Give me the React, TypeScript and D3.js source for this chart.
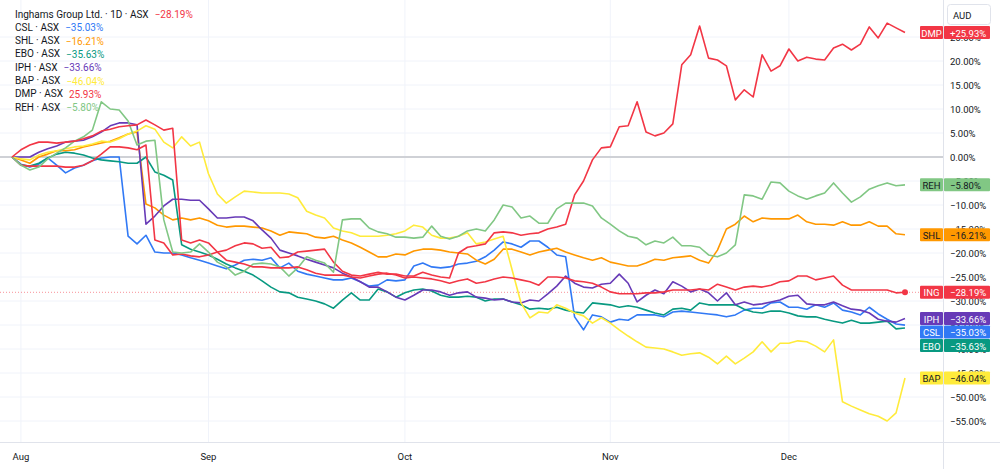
import React from 'react';
import * as d3 from 'd3';

// ---- data (percent change since 31 Jul, one value per trading day) ----
const monthLabels = ['Aug', 'Sep', 'Oct', 'Nov', 'Dec'];
const monthIndex = [1, 22, 44, 67, 87];
const yTicks = [25, 20, 15, 10, 5, 0, -5, -10, -15, -20, -25, -30, -35, -40, -45, -50, -55];

const ingValues = [0,1.5,2.5,3.1,3.1,2.9,3.1,3.3,3.8,4.4, 5.4,5.8,6.3,6.5,6.7,7.7,6.7,5.6,6.0,-17.3, -17.9,-17.3,-17.9,-19.8,-21.5,-21.9,-22.3,-22.9,-22.9,-23.1, -23.1,-23.1,-22.9,-23.5,-24.2,-24.6,-24.6,-24.6,-25.0,-25.2, -24.8,-24.4,-24.2,-24.6,-25.2,-25.0,-25.2,-25.4,-25.8,-26.3, -25.8,-25.4,-26.3,-26.0,-25.4,-25.0,-25.2,-25.6,-26.0,-26.7, -25.0,-25.0,-25.2,-25.8,-26.0,-26.3,-27.1,-28.1,-28.5,-28.5, -28.5,-28.3,-28.3,-28.1,-27.7,-27.7,-27.7,-27.5,-27.7,-26.5, -27.1,-27.7,-27.1,-26.9,-27.1,-26.7,-26.0,-25.8,-24.8,-24.8, -25.6,-25.2,-24.8,-26.7,-27.7,-27.7,-27.7,-27.7,-27.7,-28.3, -28.19];
const cslValues = [0,-1.5,-2.1,-1.5,-0.2,-1.7,-3.3,-2.3,-1.7,-0.8, -0.2,0,0,-16.5,-18.1,-16.3,-19.8,-20.0,-20.0,-20.4, -21.0,-21.5,-22.1,-22.7,-23.3,-22.5,-21.5,-21.3,-21.5,-21.0, -23.1,-22.1,-23.8,-24.4,-24.8,-25.2,-25.6,-25.6,-25.2,-26.0, -26.9,-26.7,-25.6,-25.8,-25.6,-22.7,-22.1,-22.9,-23.1,-22.9, -22.3,-22.1,-21.7,-20.8,-19.4,-17.7,-18.1,-18.8,-17.5,-17.5, -18.8,-20.4,-20.8,-33.3,-36.0,-32.9,-33.3,-34.4,-33.8,-34.0, -32.9,-32.9,-32.9,-33.3,-32.3,-32.1,-32.3,-32.5,-32.7,-32.9, -33.3,-32.9,-31.9,-31.5,-31.5,-30.4,-30.2,-31.3,-31.3,-31.7, -30.8,-31.3,-30.4,-31.9,-32.3,-32.9,-31.3,-32.7,-33.8,-34.8, -35.03];
const shlValues = [0,-0.6,-1.3,0,0.6,1.3,1.3,1.5,2.1,2.5, 2.9,3.3,4.0,4.8,5.2,-9.8,-10.6,-12.1,-13.1,-12.7, -13.1,-12.7,-13.3,-14.2,-14.6,-14.4,-14.4,-14.6,-14.8,-15.4, -16.3,-15.6,-15.8,-16.0,-16.7,-16.9,-16.5,-17.3,-17.9,-18.8, -19.8,-20.8,-20.8,-20.2,-20.4,-19.6,-19.2,-19.2,-19.4,-19.8, -20.0,-20.2,-21.5,-22.3,-21.3,-19.2,-19.2,-19.8,-20.4,-19.8, -19.4,-19.0,-19.8,-20.4,-21.0,-21.5,-21.0,-21.9,-22.3,-22.7, -22.7,-22.1,-21.3,-21.5,-21.0,-20.8,-20.6,-21.5,-22.1,-19.4, -15.0,-14.0,-12.3,-13.5,-12.7,-12.9,-12.9,-12.9,-12.1,-13.5, -14.0,-14.0,-14.2,-13.5,-14.2,-14.2,-13.5,-14.4,-14.4,-16.0, -16.21];
const eboValues = [0,-1.7,-1.9,-1.3,-0.2,0.6,1.0,0.8,0.4,-0.2, -0.6,-0.8,-1.0,-1.3,-1.3,0,-3.1,-3.8,-4.8,-18.3, -19.2,-19.8,-20.4,-21.3,-22.3,-23.1,-23.8,-24.6,-25.8,-27.1, -28.1,-28.3,-29.2,-29.6,-30.0,-30.6,-31.5,-29.8,-28.3,-29.8, -29.8,-27.5,-28.1,-29.2,-28.3,-27.7,-27.5,-27.9,-28.8,-29.2, -29.2,-29.0,-29.2,-30.0,-29.6,-29.6,-30.2,-30.8,-31.7,-31.5, -31.7,-31.3,-31.9,-32.3,-32.5,-30.4,-30.6,-30.8,-31.3,-31.0, -31.3,-31.9,-32.5,-32.9,-31.7,-31.5,-31.9,-30.4,-30.8,-30.8, -30.8,-30.8,-31.7,-32.3,-32.5,-32.1,-32.1,-32.5,-33.1,-33.3, -33.3,-33.8,-34.2,-34.6,-34.0,-34.6,-34.6,-34.4,-34.2,-35.8, -35.63];
const iphValues = [0,0,0,1.0,1.7,2.3,3.1,3.3,3.5,4.2, 5.2,6.5,7.1,7.1,6.7,-14.0,-12.3,-10.2,-8.8,-8.8, -9.0,-9.0,-10.8,-12.7,-12.7,-12.5,-12.5,-13.3,-15.2,-16.9, -19.4,-20.0,-20.6,-21.3,-21.9,-22.5,-23.1,-24.2,-25.0,-26.0, -27.1,-27.1,-28.1,-29.2,-29.8,-28.8,-27.7,-27.7,-28.1,-28.8, -28.3,-28.1,-29.2,-29.4,-29.8,-29.6,-30.2,-30.4,-29.8,-30.0, -28.5,-26.9,-24.8,-26.3,-27.1,-27.3,-26.5,-26.3,-24.4,-26.3, -30.2,-28.8,-27.7,-28.5,-26.0,-26.9,-28.1,-27.5,-28.3,-30.0, -28.3,-30.8,-30.2,-30.8,-30.6,-30.2,-29.8,-29.0,-28.8,-30.6, -30.8,-30.8,-30.2,-31.0,-31.7,-31.9,-32.5,-33.8,-34.2,-34.4, -33.66];
const bapValues = [0,-0.4,-0.6,0.4,1.0,1.3,1.7,2.1,2.3,2.7, 3.3,3.1,3.8,4.8,5.4,6.5,5.8,3.1,1.9,4.2, 2.3,3.1,-3.5,-7.7,-9.6,-8.3,-7.1,-7.3,-7.5,-7.5, -7.5,-7.7,-8.5,-11.3,-12.1,-12.7,-14.8,-15.4,-15.8,-16.5, -16.5,-16.5,-16.3,-16.0,-15.4,-14.2,-14.6,-16.3,-16.9,-16.9, -16.5,-15.8,-18.1,-17.7,-17.1,-16.5,-23.5,-30.4,-33.5,-32.3, -32.5,-30.8,-31.5,-32.5,-33.1,-34.6,-33.5,-34.6,-36.0,-37.3, -38.5,-39.6,-39.8,-40.0,-40.6,-41.3,-41.0,-40.8,-41.7,-43.1, -41.5,-43.1,-41.9,-40.6,-38.5,-40.6,-38.8,-38.8,-38.3,-38.5, -39.4,-40.6,-38.1,-51.0,-51.9,-52.7,-53.5,-54.0,-55.0,-53.3, -46.04];
const dmpValues = [0,-1.7,-1.9,-1.9,-1.9,-1.9,-2.1,-2.1,-1.7,-0.8, 0.6,2.1,2.1,1.9,1.5,2.5,-17.3,-17.9,-20.4,-20.2, -20.6,-20.8,-20.4,-19.8,-19.4,-18.5,-17.9,-18.1,-19.0,-18.8, -21.0,-20.8,-19.8,-19.6,-19.4,-19.2,-21.9,-23.8,-24.6,-24.8, -24.4,-24.0,-24.4,-24.4,-24.8,-24.8,-24.0,-24.6,-25.0,-25.2, -20.0,-18.8,-18.5,-18.1,-15.8,-15.6,-15.8,-16.3,-16.0,-15.8, -15.0,-14.6,-14.0,-7.9,-5.0,-0.6,1.9,2.1,6.3,6.5, 11.5,5.2,4.4,5.0,6.9,19.2,21.3,27.3,20.6,20.2, 19.0,11.9,14.0,12.5,21.3,17.9,19.0,22.5,20.0,20.8, 20.4,20.2,22.7,23.5,22.3,23.5,27.1,24.8,27.9,26.9, 25.93];
const rehValues = [0,-1.7,-2.7,-2.1,-0.4,0.8,1.9,3.3,4.2,5.6, 11.5,10.0,9.8,7.5,2.5,3.3,3.5,-13.1,-19.8,-20.0, -19.8,-18.1,-19.8,-21.9,-22.9,-24.6,-23.8,-22.3,-22.1,-22.3, -22.9,-24.8,-23.1,-20.8,-21.5,-22.1,-24.0,-13.1,-12.9,-12.9, -14.8,-15.6,-16.0,-16.7,-16.7,-16.9,-16.7,-14.4,-16.5,-17.1, -16.5,-15.4,-15.0,-15.4,-13.1,-10.0,-10.4,-12.7,-12.3,-13.8, -13.8,-10.8,-9.6,-9.6,-9.6,-10.2,-12.7,-14.0,-15.4,-16.5, -16.9,-18.3,-17.5,-17.9,-16.7,-18.5,-18.5,-18.8,-20.4,-20.8, -20.0,-18.3,-7.9,-8.1,-8.8,-5.2,-5.4,-7.1,-8.1,-8.8, -8.1,-7.5,-5.4,-7.5,-9.4,-8.3,-6.7,-6.0,-5.4,-6.0, -5.80];

const tickers = ['ING', 'CSL', 'SHL', 'EBO', 'IPH', 'BAP', 'DMP', 'REH'];
const legendNames = ['Inghams Group Ltd. · 1D · ASX', 'CSL · ASX', 'SHL · ASX', 'EBO · ASX', 'IPH · ASX', 'BAP · ASX', 'DMP · ASX', 'REH · ASX'];
const seriesValues = [ingValues, cslValues, shlValues, eboValues, iphValues, bapValues, dmpValues, rehValues];
const colors = ['#f23645', '#3179f5', '#ff9800', '#089981', '#673ab7', '#ffeb3b', '#f23645', '#81c784'];
const tagText = ['#ffffff', '#ffffff', '#131722', '#ffffff', '#ffffff', '#131722', '#ffffff', '#131722'];

const W = 1000;
const H = 469;
const PLOT_RIGHT = 943;
const AXIS_Y = 442;
const FONT = "Roboto, 'Liberation Sans', Arial, sans-serif";
const TEXT = '#131722';
const GRID = '#f0f3fa';

const fmtPct = (v: number) => (v < 0 ? '\u2212' : '') + Math.abs(v).toFixed(2) + '%';
const fmtTag = (v: number) => (v < 0 ? '\u2212' : '+') + Math.abs(v).toFixed(2) + '%';

export default function App() {
  const x = d3.scaleLinear().domain([0, 100]).range([12, 905]);
  const y = d3.scaleLinear().domain([0, -55]).range([157, 421]);
  const line = d3.line<number>().x((_, i) => x(i)).y((d) => y(d));

  const last = seriesValues.map((v) => v[v.length - 1]);

  // right-axis tags, pushed apart when overlapping
  const order = d3.range(tickers.length).sort((a, b) => y(last[a]) - y(last[b]));
  const tagY: number[] = new Array(tickers.length).fill(0);
  let prev = -Infinity;
  order.forEach((k) => {
    const yy = Math.max(y(last[k]), prev + 13.5);
    tagY[k] = yy;
    prev = yy;
  });

  const drawOrder = [1, 2, 3, 4, 5, 6, 7, 0];

  return (
    <svg width={W} height={H} style={{ position: 'absolute', left: 0, top: 0, background: '#fff' }} fontFamily={FONT}>
      <rect x={0} y={0} width={W} height={H} fill="#ffffff" />
      {/* grid */}
      {yTicks.map((t) => (
        <line key={'hg' + t} x1={0} x2={PLOT_RIGHT} y1={y(t)} y2={y(t)} stroke={GRID} strokeWidth={1} />
      ))}
      {monthIndex.map((m) => (
        <line key={'vg' + m} x1={x(m)} x2={x(m)} y1={0} y2={AXIS_Y} stroke={GRID} strokeWidth={1} />
      ))}
      {/* zero line */}
      <line x1={0} x2={PLOT_RIGHT} y1={y(0)} y2={y(0)} stroke="#cfd1d6" strokeWidth={2} />
      {/* main series last-value dotted line */}
      <line x1={0} x2={PLOT_RIGHT} y1={y(last[0])} y2={y(last[0])} stroke="#f23645" strokeOpacity={0.55} strokeDasharray="1 2" strokeWidth={1} />

      {/* series lines */}
      {drawOrder.map((k) => (
        <path key={tickers[k]} d={line(seriesValues[k]) || ''} fill="none" stroke={colors[k]} strokeWidth={1.6} strokeLinejoin="round" />
      ))}
      <circle cx={x(100)} cy={y(last[0])} r={3} fill="#f23645" />

      {/* axes borders */}
      <line x1={PLOT_RIGHT + 0.5} x2={PLOT_RIGHT + 0.5} y1={0} y2={H} stroke="#e0e3eb" />
      <line x1={0} x2={W} y1={AXIS_Y + 0.5} y2={AXIS_Y + 0.5} stroke="#e0e3eb" />

      {/* right axis labels */}
      {yTicks.map((t) => (
        <text key={'yt' + t} x={950} y={y(t)} dominantBaseline="central" fontSize={9.5} fill={TEXT}>
          {fmtPct(t)}
        </text>
      ))}
      {/* AUD box */}
      <rect x={947.5} y={4.5} width={43} height={20} rx={3} fill="#fff" stroke="#e0e3eb" />
      <text x={953} y={15} dominantBaseline="central" fontSize={9.5} fill={TEXT}>AUD</text>

      {/* month labels */}
      {monthIndex.map((m, i) => (
        <text key={'m' + m} x={x(m)} y={456} textAnchor="middle" dominantBaseline="central" fontSize={9.5} fill={TEXT}>
          {monthLabels[i]}
        </text>
      ))}

      {/* tags */}
      {tickers.map((tk, k) => (
        <g key={'tag' + tk}>
          <rect x={920} y={tagY[k] - 6.5} width={23} height={13} fill={colors[k]} rx={1} />
          <rect x={944} y={tagY[k] - 6.5} width={46} height={13} fill={colors[k]} rx={1} />
          <text x={931.5} y={tagY[k] + 0.5} textAnchor="middle" dominantBaseline="central" fontSize={9.5} fill={tagText[k]}>
            {tk}
          </text>
          <text x={950} y={tagY[k] + 0.5} dominantBaseline="central" fontSize={9.5} fill={tagText[k]}>
            {fmtTag(last[k])}
          </text>
        </g>
      ))}

      {/* legend */}
      {legendNames.map((nm, k) => (
        <text key={'lg' + k} x={15} y={14 + k * 13.33} dominantBaseline="central" fontSize={10} fill={TEXT}>
          {nm}
          <tspan dx={6} fill={colors[k]}>{k === 6 ? last[k].toFixed(2) + '%' : fmtPct(last[k])}</tspan>
        </text>
      ))}
    </svg>
  );
}
